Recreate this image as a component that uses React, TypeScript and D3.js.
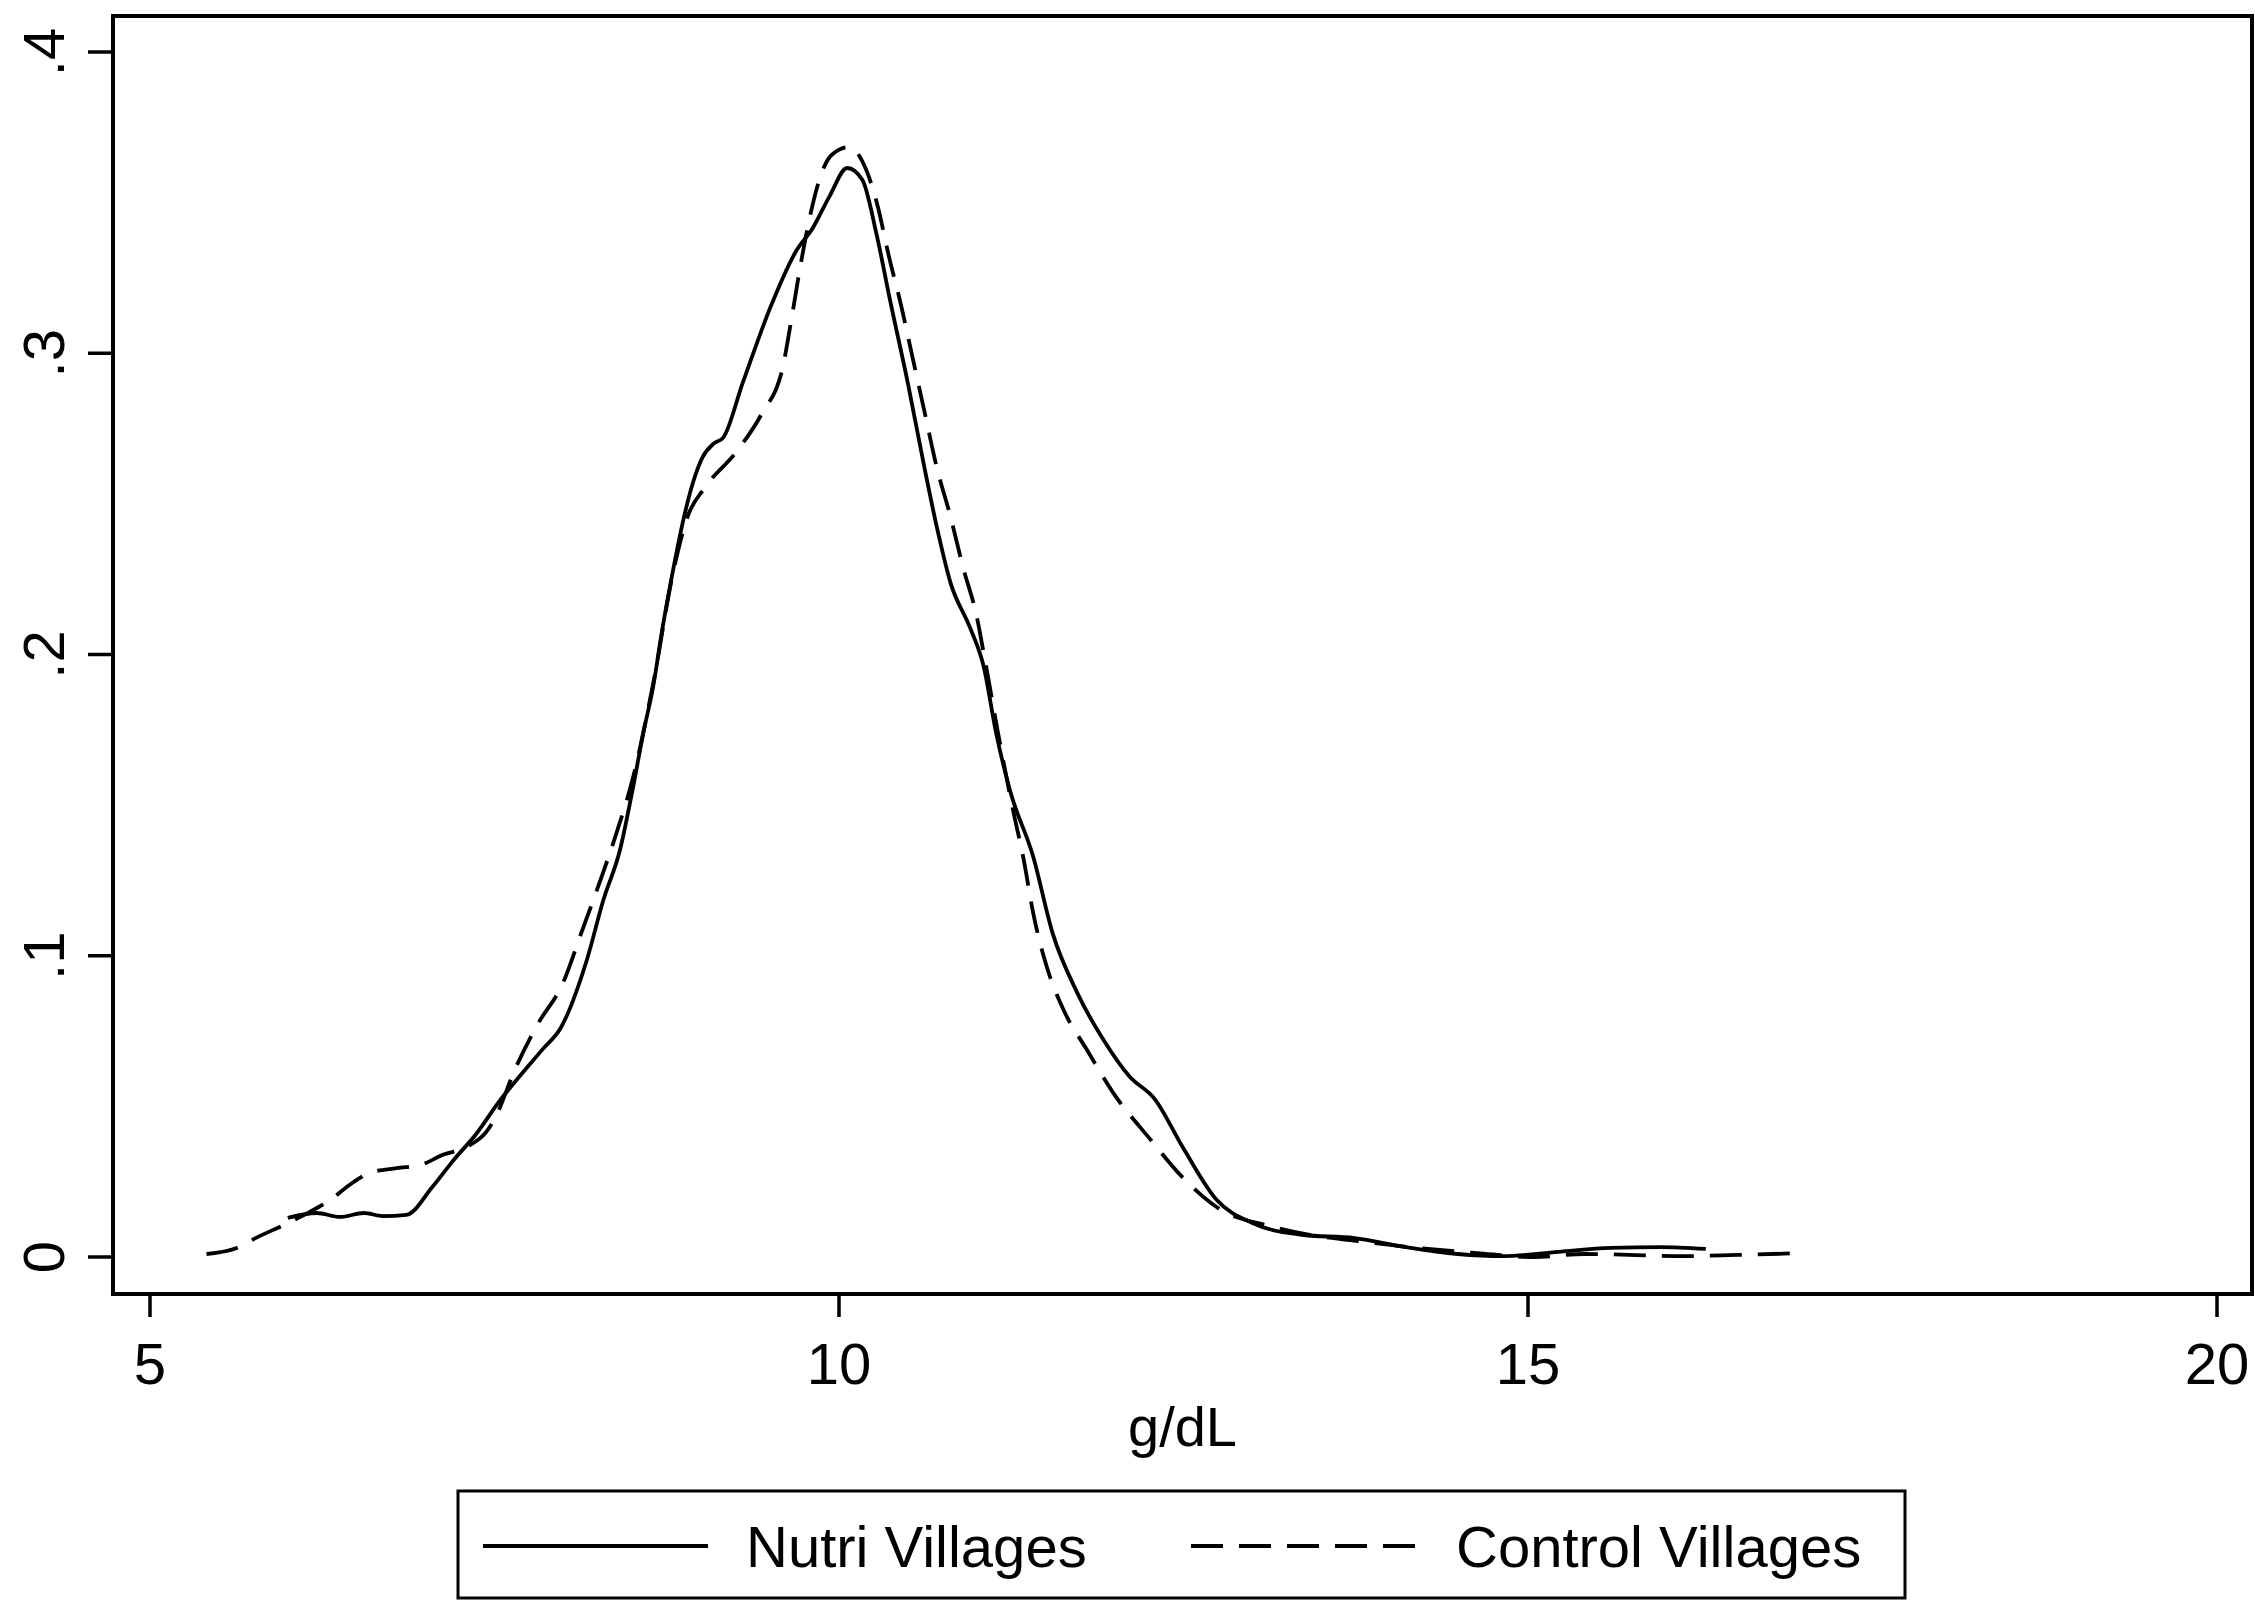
import React from "react";
import * as d3 from "d3";

const nutriX = [6.0, 6.21, 6.38, 6.55, 6.69, 6.86, 7.05, 7.2, 7.37, 7.54, 7.61, 7.85, 7.98, 8.17, 8.29, 8.41, 8.51, 8.58, 8.65, 8.72, 8.8, 8.87, 8.94, 9.01, 9.09, 9.16, 9.3, 9.5, 9.69, 9.81, 9.93, 10.06, 10.17, 10.27, 10.37, 10.5, 10.62, 10.71, 10.81, 10.95, 11.05, 11.14, 11.24, 11.41, 11.55, 11.73, 11.92, 12.11, 12.29, 12.5, 12.74, 13.0, 13.37, 13.74, 14.11, 14.49, 14.82, 15.22, 15.6, 15.96, 16.29];
const nutriY = [0.013, 0.0146, 0.0133, 0.0146, 0.0136, 0.014, 0.0233, 0.032, 0.041, 0.052, 0.056, 0.069, 0.076, 0.0986, 0.1185, 0.135, 0.157, 0.174, 0.189, 0.209, 0.229, 0.2446, 0.257, 0.2655, 0.27, 0.272, 0.29, 0.315, 0.334, 0.3416, 0.352, 0.3615, 0.3575, 0.34, 0.3177, 0.29, 0.262, 0.2423, 0.2237, 0.209, 0.196, 0.174, 0.155, 0.1328, 0.1075, 0.0876, 0.072, 0.0598, 0.0525, 0.036, 0.019, 0.0113, 0.0073, 0.0063, 0.0033, 0.001, 0.0003, 0.0017, 0.003, 0.0033, 0.0027];

const controlX = [5.41, 5.63, 5.78, 5.97, 6.16, 6.31, 6.45, 6.6, 6.79, 6.96, 7.13, 7.3, 7.44, 7.5, 7.65, 7.81, 8.0, 8.13, 8.26, 8.38, 8.51, 8.65, 8.8, 8.9, 9.03, 9.25, 9.44, 9.59, 9.66, 9.72, 9.8, 9.86, 9.95, 10.08, 10.16, 10.28, 10.36, 10.45, 10.53, 10.61, 10.71, 10.81, 10.9, 11.0, 11.05, 11.15, 11.26, 11.34, 11.41, 11.51, 11.63, 11.8, 11.99, 12.26, 12.49, 12.74, 13.15, 13.89, 14.63, 15.04, 15.41, 16.15, 16.52, 17.0];
const controlY = [0.001, 0.003, 0.0066, 0.0106, 0.015, 0.019, 0.024, 0.028, 0.0295, 0.0305, 0.034, 0.0366, 0.0415, 0.0458, 0.0624, 0.077, 0.0913, 0.1076, 0.124, 0.14, 0.16, 0.19, 0.228, 0.2456, 0.2556, 0.267, 0.28, 0.295, 0.3127, 0.329, 0.3476, 0.358, 0.366, 0.3685, 0.3645, 0.349, 0.3326, 0.316, 0.2994, 0.2828, 0.262, 0.2456, 0.229, 0.2125, 0.2005, 0.175, 0.149, 0.132, 0.114, 0.096, 0.082, 0.0687, 0.0545, 0.039, 0.0266, 0.0166, 0.01, 0.0046, 0.0013, 0.0, 0.001, 0.0003, 0.0007, 0.0013];

const xTicks = [5, 10, 15, 20];
const xTickLabels = ["5", "10", "15", "20"];
const yTicks = [0, 0.1, 0.2, 0.3, 0.4];
const yTickLabels = ["0", ".1", ".2", ".3", ".4"];
const seriesNames = ["Nutri Villages", "Control Villages"];
const xTitle = "g/dL";

export default function App() {
  const W = 2255;
  const H = 1601;
  const frame = { left: 113, right: 2252, top: 16, bottom: 1294 };
  const x = d3.scaleLinear().domain([5, 20]).range([150, 2217]);
  const y = d3.scaleLinear().domain([0, 0.4]).range([1257, 52]);
  const font = "'Liberation Sans', Arial, Helvetica, sans-serif";

  const line = d3
    .line<[number, number]>()
    .x((d) => x(d[0]))
    .y((d) => y(d[1]))
    .curve(d3.curveMonotoneX);

  const nutri = nutriX.map((v, i) => [v, nutriY[i]] as [number, number]);
  const control = controlX.map((v, i) => [v, controlY[i]] as [number, number]);

  return (
    <div style={{ position: "absolute", left: 0, top: 0 }}>
      <svg width={W} height={H} style={{ display: "block", background: "#fff" }}>
        <rect x={0} y={0} width={W} height={H} fill="#fff" />
        <path d={line(control) || ""} fill="none" stroke="#000" strokeWidth={3.8} strokeDasharray="32,16" />
        <path d={line(nutri) || ""} fill="none" stroke="#000" strokeWidth={3.8} />
        <rect
          x={frame.left}
          y={frame.top}
          width={frame.right - frame.left}
          height={frame.bottom - frame.top}
          fill="none"
          stroke="#000"
          strokeWidth={4}
        />
        {yTicks.map((t, i) => (
          <g key={"y" + i}>
            <line x1={88} x2={frame.left} y1={y(t)} y2={y(t)} stroke="#000" strokeWidth={3.5} />
            <text
              x={64}
              y={y(t)}
              transform={`rotate(-90, 64, ${y(t)})`}
              textAnchor="middle"
              fontFamily={font}
              fontSize={58}
              fill="#000"
            >
              {yTickLabels[i]}
            </text>
          </g>
        ))}
        {xTicks.map((t, i) => (
          <g key={"x" + i}>
            <line x1={x(t)} x2={x(t)} y1={frame.bottom} y2={1317} stroke="#000" strokeWidth={3.5} />
            <text x={x(t)} y={1384} textAnchor="middle" fontFamily={font} fontSize={58} fill="#000">
              {xTickLabels[i]}
            </text>
          </g>
        ))}
        <text x={(frame.left + frame.right) / 2} y={1446} textAnchor="middle" fontFamily={font} fontSize={56} fill="#000">
          {xTitle}
        </text>
        <rect x={458} y={1491} width={1447} height={107} fill="#fff" stroke="#000" strokeWidth={3} />
        <line x1={483} x2={708} y1={1546} y2={1546} stroke="#000" strokeWidth={3.8} />
        <text x={746} y={1567} fontFamily={font} fontSize={58} fill="#000">
          {seriesNames[0]}
        </text>
        <line x1={1191} x2={1415} y1={1546} y2={1546} stroke="#000" strokeWidth={3.8} strokeDasharray="32,16" />
        <text x={1456} y={1567} fontFamily={font} fontSize={58} fill="#000">
          {seriesNames[1]}
        </text>
      </svg>
    </div>
  );
}
